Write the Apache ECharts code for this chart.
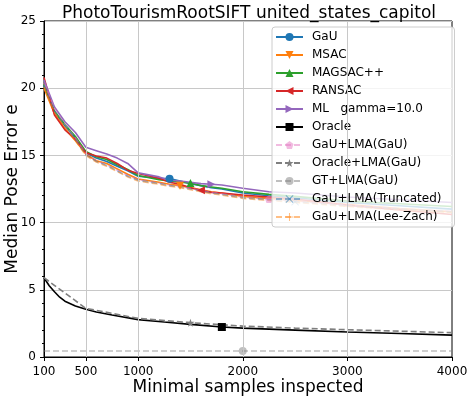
<!DOCTYPE html>
<html>
<head>
<meta charset="utf-8">
<script src="https://cdn.jsdelivr.net/npm/echarts@6/dist/echarts.min.js"></script>
<style>
  html, body { margin: 0; padding: 0; background: #fff; }
  #chart { width: 468px; height: 399px; }
</style>
</head>
<body>
<div id="chart"></div>
<script>
// sample counts
var xMain = [100, 200, 300, 400, 500, 600, 700, 800, 900, 1000, 1200, 1300, 1400, 1500, 1600, 1700, 1800, 2000, 2250, 2500, 3000, 3500, 4000];
var xOracle = [100, 150, 200, 250, 300, 400, 500, 600, 750, 1000, 1250, 1500, 1800, 2000, 2500, 3000, 3500, 4000];
var xOracleLma = [100, 500, 1000, 1500, 2000, 2500, 3000, 3500, 4000];
var xTicks = [100, 500, 1000, 2000, 3000, 4000];
var xGrid = [500, 1000, 2000, 3000];

// median pose error
var gauVals = [20.2, 18.2, 17.2, 16.3, 15.2, 14.8, 14.55, 14.2, 13.85, 13.45, 13.3, 13.27, 13.1, 12.9, 12.75, 12.6, 12.5, 12.2, 12.0, 11.85, 11.5, 11.25, 11.0];
var msacVals = [20.0, 18.1, 17.0, 16.1, 15.1, 14.6, 14.4, 14.0, 13.6, 13.25, 13.0, 12.85, 12.75, 12.6, 12.45, 12.3, 12.2, 11.95, 11.8, 11.65, 11.35, 11.05, 10.8];
var magsacVals = [20.3, 18.3, 17.3, 16.4, 15.3, 14.9, 14.7, 14.3, 13.95, 13.5, 13.2, 13.1, 13.0, 12.95, 12.75, 12.65, 12.55, 12.3, 12.1, 11.95, 11.6, 11.4, 11.2];
var ransacVals = [20.8, 18.0, 16.9, 16.2, 15.2, 14.95, 14.8, 14.4, 13.9, 13.65, 13.3, 13.0, 12.85, 12.6, 12.4, 12.25, 12.2, 12.05, 11.9, 11.75, 11.3, 10.95, 10.6];
var mlVals = [20.6, 18.6, 17.5, 16.7, 15.6, 15.35, 15.1, 14.8, 14.4, 13.7, 13.4, 13.15, 13.1, 13.0, 12.9, 12.85, 12.8, 12.55, 12.3, 12.2, 11.9, 11.7, 11.5];
var oracleVals = [5.9, 5.3, 4.85, 4.45, 4.15, 3.8, 3.55, 3.35, 3.12, 2.78, 2.6, 2.43, 2.23, 2.15, 2.0, 1.86, 1.75, 1.63];
var gauLmaVals = [20.4, 18.5, 17.3, 16.3, 15.1, 14.6, 14.3, 13.9, 13.5, 13.2, 12.95, 12.8, 12.7, 12.55, 12.4, 12.25, 12.15, 11.9, 11.75, 11.6, 11.3, 11.05, 10.85];
var oracleLmaVals = [5.9, 3.62, 2.87, 2.55, 2.3, 2.15, 2.03, 1.92, 1.81];
var gtLmaVals = [0.45, 0.45, 0.45, 0.45, 0.45, 0.45, 0.45, 0.45, 0.45];
var truncVals = [20.2, 18.3, 17.2, 16.2, 15.05, 14.55, 14.25, 13.85, 13.45, 13.15, 12.9, 12.75, 12.65, 12.5, 12.35, 12.2, 12.1, 11.85, 11.7, 11.55, 11.25, 11.0, 10.8];
var leeZachVals = [20.1, 18.2, 17.1, 16.1, 15.0, 14.5, 14.2, 13.8, 13.4, 13.1, 12.85, 12.7, 12.6, 12.45, 12.3, 12.15, 12.05, 11.8, 11.65, 11.5, 11.2, 10.95, 10.75];

var names = ['GaU', 'MSAC', 'MAGSAC++', 'RANSAC', 'ML   gamma=10.0', 'Oracle', 'GaU+LMA(GaU)',
    'Oracle+LMA(GaU)', 'GT+LMA(GaU)', 'GaU+LMA(Truncated)', 'GaU+LMA(Lee-Zach)'];

var starPath = 'path://M0,-10L2.35,-3.24L9.51,-3.09L3.8,1.24L5.88,8.09L0,4L-5.88,8.09L-3.8,1.24L-9.51,-3.09L-2.35,-3.24Z';
var pentaPath = 'path://M0,-10L9.51,-3.09L5.88,8.09L-5.88,8.09L-9.51,-3.09Z';
var xPath = 'path://M-10,-8L-8,-10L0,-2L8,-10L10,-8L2,0L10,8L8,10L0,2L-8,10L-10,8L-2,0Z';
var plusPath = 'path://M-1.3,-10L1.3,-10L1.3,-1.3L10,-1.3L10,1.3L1.3,1.3L1.3,10L-1.3,10L-1.3,1.3L-10,1.3L-10,-1.3L-1.3,-1.3Z';

function line(name, xs, ys, color, symbol, rotate, markX, dashed, alpha) {
    return {
        name: name,
        type: 'line',
        z: 3,
        data: xs.map(function (x, i) { return [x, ys[i]]; }),
        symbol: symbol,
        symbolRotate: rotate,
        symbolSize: function (val) { return val[0] === markX ? 8 : 0; },
        showSymbol: true,
        animation: false,
        lineStyle: { color: color, width: 1.6, type: dashed ? [6, 3] : 'solid', opacity: alpha },
        itemStyle: { color: color, opacity: alpha }
    };
}

var chart = echarts.init(document.getElementById('chart'));
chart.setOption({
    backgroundColor: '#fff',
    textStyle: { fontFamily: 'DejaVu Sans' },
    title: {
        text: 'PhotoTourismRootSIFT united_states_capitol',
        left: 57,
        top: 0,
        textStyle: { fontFamily: 'DejaVu Sans', fontSize: 17, fontWeight: 'normal', color: '#000' }
    },
    grid: { left: 44, right: 16, top: 21, bottom: 42, show: true, borderColor: '#000', borderWidth: 1,
        outerBoundsMode: 'none', containLabel: false },
    legend: {
        data: names,
        orient: 'vertical',
        left: 272,
        top: 27,
        padding: [4, 13, 4, 3],
        itemWidth: 27,
        itemHeight: 10,
        itemGap: 6,
        backgroundColor: 'rgba(255,255,255,0.8)',
        borderColor: '#cccccc',
        borderWidth: 1,
        borderRadius: 3,
        textStyle: { fontFamily: 'DejaVu Sans', fontSize: 12, color: '#000', padding: [0, 0, 0, 4] }
    },
    xAxis: {
        type: 'value',
        min: 100,
        max: 4000,
        name: 'Minimal samples inspected',
        nameLocation: 'middle',
        nameGap: 22,
        nameMoveOverlap: false,
        nameTextStyle: { fontFamily: 'DejaVu Sans', fontSize: 17, color: '#000' },
        axisLine: { show: true, lineStyle: { color: '#000' } },
        axisTick: { show: true, length: 4, customValues: xTicks, lineStyle: { color: '#000' } },
        axisLabel: { customValues: xTicks, fontSize: 12, color: '#000', margin: 9,
            formatter: function (v) { return String(v); } },
        splitLine: { show: false }
    },
    yAxis: {
        type: 'value',
        min: 0,
        max: 25,
        interval: 5,
        name: 'Median Pose Error e',
        nameLocation: 'middle',
        nameGap: 23,
        nameMoveOverlap: false,
        nameTextStyle: { fontFamily: 'DejaVu Sans', fontSize: 17, color: '#000' },
        axisLine: { show: true, lineStyle: { color: '#000' } },
        axisTick: { show: true, length: 4, lineStyle: { color: '#000' } },
        minorTick: { show: true, splitNumber: 5, length: 2, lineStyle: { color: '#000' } },
        axisLabel: { fontSize: 12, color: '#000', margin: 8 },
        splitLine: { show: true, lineStyle: { color: '#c8c8c8', width: 1 } }
    },
    series: [
        {
            name: 'grid',
            type: 'line',
            z: 1,
            data: [],
            silent: true,
            animation: false,
            markLine: {
                silent: true,
                symbol: 'none',
                label: { show: false },
                lineStyle: { color: '#c8c8c8', width: 1, type: 'solid' },
                data: xGrid.map(function (x) { return { xAxis: x }; })
            }
        },
        line('GaU', xMain, gauVals, '#1f77b4', 'circle', 0, 1300, false, 1),
        line('MSAC', xMain, msacVals, '#ff7f0e', 'triangle', 180, 1400, false, 1),
        line('MAGSAC++', xMain, magsacVals, '#2ca02c', 'triangle', 0, 1500, false, 1),
        line('RANSAC', xMain, ransacVals, '#d62728', 'triangle', 90, 1600, false, 1),
        line(names[4], xMain, mlVals, '#9467bd', 'triangle', -90, 1700, false, 1),
        line('Oracle', xOracle, oracleVals, '#000000', 'rect', 0, 1800, false, 1),
        line('GaU+LMA(GaU)', xMain, gauLmaVals, '#e377c2', pentaPath, 0, 2250, true, 0.5),
        line('Oracle+LMA(GaU)', xOracleLma, oracleLmaVals, '#7f7f7f', starPath, 0, 1500, true, 1),
        line('GT+LMA(GaU)', xOracleLma, gtLmaVals, '#7f7f7f', 'circle', 0, 2000, true, 0.5),
        line('GaU+LMA(Truncated)', xMain, truncVals, '#1f77b4', xPath, 0, 2500, true, 0.5),
        line('GaU+LMA(Lee-Zach)', xMain, leeZachVals, '#ff7f0e', plusPath, 0, 3000, true, 0.5)
    ]
});
</script>
</body>
</html>
